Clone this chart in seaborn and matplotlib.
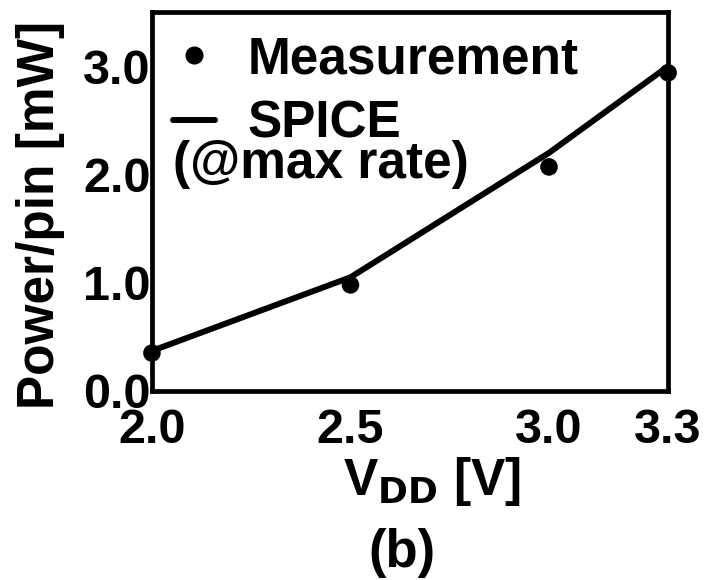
import matplotlib
matplotlib.use("Agg")
import matplotlib.pyplot as plt
from matplotlib.lines import Line2D
import seaborn as sns
import pandas as pd

# data
vdd_meas = [2.0, 2.5, 3.0, 3.3]
power_meas = [0.35, 0.98, 2.07, 2.94]
vdd_spice = [2.0, 2.5, 3.0, 3.3]
power_spice = [0.37, 1.05, 2.2, 3.0]
x_ticks = [2.0, 2.5, 3.0, 3.3]
x_ticklabels = ["2.0", "2.5", "3.0", "3.3"]
y_ticks = [0.0, 1.0, 2.0, 3.0]
y_ticklabels = ["0.0", "1.0", "2.0", "3.0"]

sns.set_style("white")
plt.rcParams['font.family'] = ['Liberation Sans', 'DejaVu Sans']
plt.rcParams['font.weight'] = 'bold'
plt.rcParams['mathtext.default'] = 'bf'
for k in ['text.color', 'axes.labelcolor', 'xtick.color', 'ytick.color', 'axes.edgecolor']:
    plt.rcParams[k] = 'black'

df_meas = pd.DataFrame({"vdd": vdd_meas, "power": power_meas})
df_spice = pd.DataFrame({"vdd": vdd_spice, "power": power_spice})

fig = plt.figure(figsize=(7.1, 5.8), dpi=100)
ax = fig.add_axes([0.214, 0.326, 0.727, 0.653])

sns.lineplot(data=df_spice, x="vdd", y="power", color="black", linewidth=4.3,
             ax=ax, clip_on=False, zorder=3)
sns.scatterplot(data=df_meas, x="vdd", y="power", color="black", s=160,
                edgecolor="none", ax=ax, clip_on=False, zorder=4)

ax.set_xlim(2.0, 3.3)
ax.set_ylim(0, 3.5)
ax.set_xticks(x_ticks)
ax.set_xticklabels(x_ticklabels, fontsize=35, fontweight='bold')
ax.set_yticks(y_ticks)
ax.set_yticklabels(y_ticklabels, fontsize=35, fontweight='bold')
ax.tick_params(axis='both', direction='in', length=4, width=2.5, colors='black')
ax.tick_params(axis='y', pad=1)
ax.tick_params(axis='x', pad=12)

for sp in ax.spines.values():
    sp.set_linewidth(3.4)

ax.set_xlabel(r"V$_{\mathbf{DD}}$ [V]", fontsize=37, fontweight='bold')
ax.xaxis.set_label_coords(0.543, -0.17)
ax.set_ylabel("Power/pin [mW]", fontsize=37, fontweight='bold')
ax.yaxis.set_label_coords(-0.168, 0.465)

handles = [
    Line2D([], [], marker='o', linestyle='none', color='black', markersize=12),
    Line2D([], [], color='black', linewidth=4.3),
]
ax.legend(handles, ["Measurement", "SPICE"], loc='upper left',
          bbox_to_anchor=(-0.018, 1.02), frameon=False,
          prop={'size': 37, 'weight': 'bold'}, handlelength=0.8,
          handletextpad=0.65, labelspacing=0.3, borderaxespad=0.2)
ax.text(0.04, 0.598, "(@max rate)", transform=ax.transAxes, fontsize=37,
        fontweight='bold', ha='left', va='center')

fig.text(0.566, 0.047, "(b)", fontsize=38, fontweight='bold',
         ha='center', va='center')

fig.savefig("out.png", dpi=100)
